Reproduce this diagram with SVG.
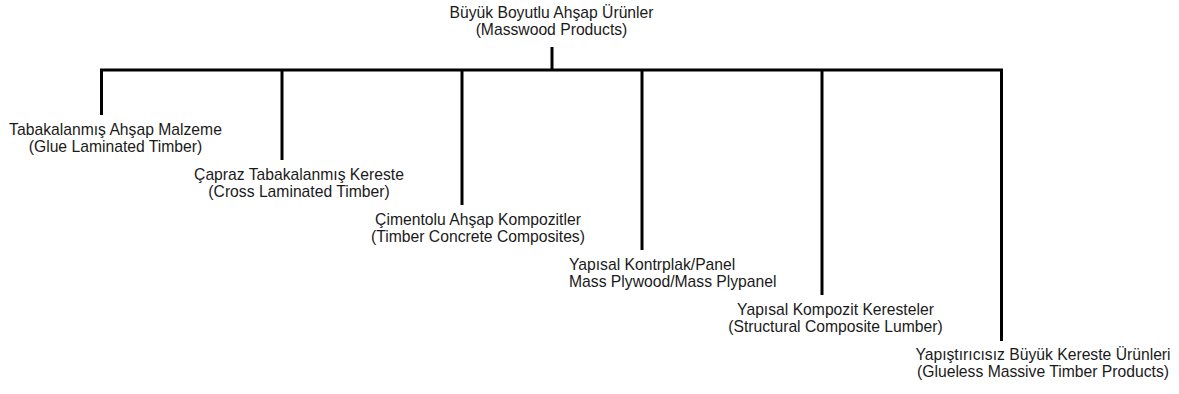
<svg xmlns="http://www.w3.org/2000/svg" width="1179" height="394" viewBox="0 0 1179 394">
<style>
text{font-family:"Liberation Sans",Arial,sans-serif;font-size:15.7px;fill:#1a1a1a;text-anchor:middle}
.l{text-anchor:start}
.c{stroke:#000;stroke-width:3;fill:none}
</style>
<rect width="1179" height="394" fill="#fff"/>
<g id="connectors">
<line class="c" x1="552" y1="47" x2="552" y2="70"/>
<line class="c" x1="100" y1="70" x2="1003" y2="70"/>
<line class="c" x1="101.5" y1="70" x2="101.5" y2="115"/>
<line class="c" x1="282" y1="70" x2="282" y2="160"/>
<line class="c" x1="462" y1="70" x2="462" y2="205"/>
<line class="c" x1="642" y1="70" x2="642" y2="250"/>
<line class="c" x1="822" y1="70" x2="822" y2="295"/>
<line class="c" x1="1001.5" y1="70" x2="1001.5" y2="341"/>
</g>
<g id="root"><text x="551.5" y="18">Büyük Boyutlu Ahşap Ürünler</text><text x="551.5" y="35">(Masswood Products)</text></g>
<g id="glulam"><text x="115.5" y="135">Tabakalanmış Ahşap Malzeme</text><text x="115.5" y="152">(Glue Laminated Timber)</text></g>
<g id="clt"><text x="299" y="180">Çapraz Tabakalanmış Kereste</text><text x="299" y="197">(Cross Laminated Timber)</text></g>
<g id="tcc"><text x="478" y="225">Çimentolu Ahşap Kompozitler</text><text x="478" y="242">(Timber Concrete Composites)</text></g>
<g id="mpp"><text class="l" x="569" y="270">Yapısal Kontrplak/Panel</text><text class="l" x="569" y="287">Mass Plywood/Mass Plypanel</text></g>
<g id="scl"><text x="835.5" y="315">Yapısal Kompozit Keresteler</text><text x="835.5" y="332">(Structural Composite Lumber)</text></g>
<g id="glueless"><text x="1043" y="360">Yapıştırıcısız Büyük Kereste Ürünleri</text><text x="1043" y="377">(Glueless Massive Timber Products)</text></g>
</svg>
